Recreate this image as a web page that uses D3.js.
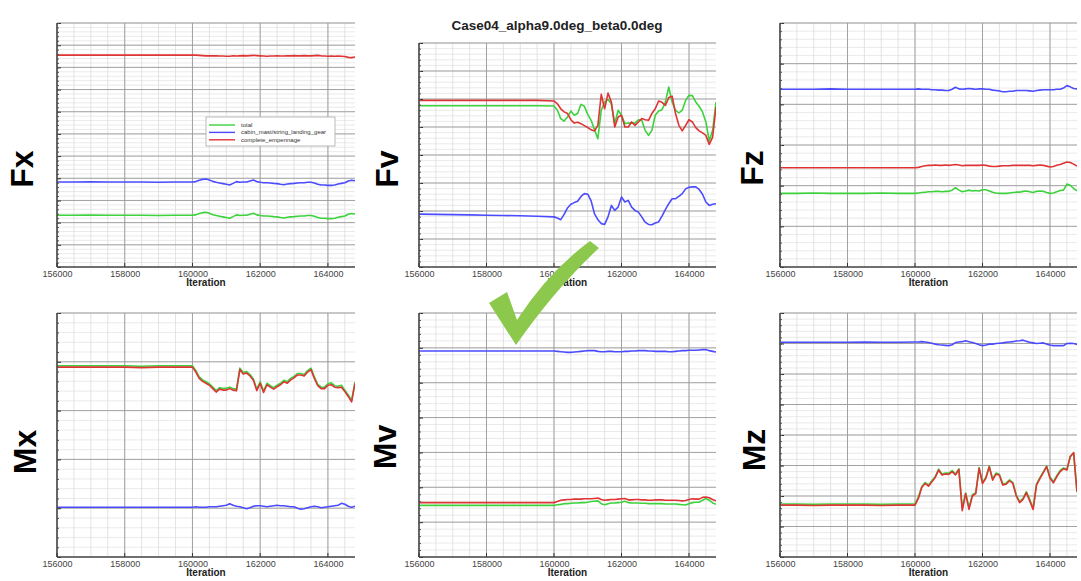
<!DOCTYPE html>
<html>
<head>
<meta charset="utf-8">
<script src="https://cdn.jsdelivr.net/npm/d3@7"></script>
<style>
  body { margin: 0; background: #fff; }
  text { font-family: "Liberation Sans", Arial, sans-serif; }
</style>
</head>
<body>
<svg id="chart" width="1081" height="581"></svg>
<script>
// iterations (x values shared by every curve)
var iterations = [156000,156500,157000,157500,158000,158500,159000,159500,160000,
  160100,160200,160300,160400,160500,160600,160700,160800,160900,161000,
  161100,161200,161300,161400,161500,161600,161700,161800,161900,162000,
  162100,162200,162300,162400,162500,162600,162700,162800,162900,163000,
  163100,163200,163300,163400,163500,163600,163700,163800,163900,164000,
  164100,164200,164300,164400,164500,164600,164700,164800];
var xTicks = [156000,158000,160000,162000,164000];
var seriesNames = ["total", "cabin_mast/string_landing_gear", "complete_empennage"];
var title = "Case04_alpha9.0deg_beta0.0deg";

// values in grid units (y axis has no labels in the picture)
var fxTotal = [2.33,2.33,2.34,2.33,2.33,2.33,2.32,2.33,2.33,
  2.35,2.41,2.45,2.47,2.42,2.36,2.32,2.29,2.26,2.23,2.20,2.27,2.35,2.32,2.33,2.33,2.38,2.42,2.35,2.32,
  2.30,2.30,2.29,2.27,2.26,2.23,2.21,2.24,2.26,2.27,2.29,2.30,2.30,2.32,2.32,2.29,2.23,2.20,2.20,2.18,
  2.18,2.20,2.24,2.27,2.30,2.38,2.41,2.39];
var fxCabin = [3.83,3.83,3.84,3.83,3.83,3.83,3.82,3.83,3.83,
  3.85,3.91,3.95,3.97,3.92,3.86,3.82,3.79,3.76,3.73,3.70,3.77,3.85,3.82,3.83,3.83,3.88,3.92,3.85,3.82,
  3.80,3.80,3.79,3.77,3.76,3.73,3.71,3.74,3.76,3.77,3.79,3.80,3.80,3.82,3.82,3.79,3.73,3.70,3.70,3.68,
  3.68,3.70,3.74,3.77,3.80,3.88,3.91,3.89];
var fxEmp = [9.55,9.55,9.55,9.56,9.55,9.55,9.55,9.55,9.55,
  9.55,9.54,9.53,9.52,9.52,9.52,9.52,9.51,9.51,9.50,9.50,9.52,9.51,9.52,9.53,9.52,9.53,9.54,9.53,9.52,
  9.51,9.50,9.51,9.51,9.52,9.51,9.51,9.52,9.52,9.53,9.52,9.52,9.53,9.52,9.52,9.53,9.54,9.52,9.51,9.50,
  9.51,9.50,9.51,9.50,9.49,9.45,9.44,9.47];

var fvTotal = [5.76,5.76,5.76,5.76,5.76,5.76,5.76,5.76,5.75,
  5.60,5.30,5.21,5.36,5.57,5.42,5.48,5.81,5.74,5.45,5.24,4.90,4.58,5.60,5.89,5.98,5.83,5.12,5.60,5.42,
  5.12,5.14,5.14,5.14,5.26,5.24,4.88,4.70,4.88,5.42,5.57,5.62,5.89,6.43,5.89,5.60,5.50,5.60,5.95,6.13,
  6.12,5.89,5.74,5.54,5.18,4.50,4.88,5.89];
var fvCabin = [1.89,1.88,1.87,1.86,1.85,1.84,1.83,1.81,1.79,
  1.75,1.69,1.88,2.11,2.24,2.30,2.35,2.52,2.62,2.60,2.36,1.90,1.69,1.55,1.52,1.79,2.20,2.02,2.14,2.50,
  2.32,2.38,2.14,2.02,1.96,1.79,1.60,1.52,1.51,1.57,1.61,1.82,2.05,2.26,2.44,2.44,2.52,2.62,2.79,2.85,
  2.86,2.86,2.77,2.60,2.32,2.20,2.24,2.26];
var fvEmp = [5.95,5.95,5.95,5.95,5.95,5.95,5.95,5.95,5.93,
  5.83,5.65,5.54,5.48,5.26,5.14,5.17,5.12,5.05,4.98,4.90,4.86,5.06,6.17,5.65,6.21,5.89,5.00,5.36,5.42,
  5.00,5.00,5.18,5.06,5.18,5.30,5.26,5.24,5.48,5.65,5.93,5.88,5.77,6.05,6.10,5.48,5.06,4.86,5.06,5.26,
  5.18,4.98,4.86,4.79,4.70,4.38,4.64,5.71];

var fzTotal = [1.81,1.81,1.82,1.81,1.81,1.81,1.82,1.81,1.81,
  1.82,1.83,1.84,1.85,1.85,1.86,1.86,1.85,1.86,1.86,1.89,1.95,1.89,1.85,1.87,1.89,1.87,1.88,1.87,1.90,
  1.90,1.87,1.84,1.82,1.81,1.81,1.81,1.82,1.83,1.84,1.84,1.86,1.87,1.85,1.83,1.86,1.87,1.86,1.83,1.81,
  1.82,1.85,1.88,1.89,2.04,2.01,1.93,1.87];
var fzCabin = [4.37,4.37,4.37,4.38,4.37,4.37,4.37,4.37,4.37,
  4.38,4.37,4.37,4.37,4.36,4.36,4.35,4.35,4.34,4.34,4.37,4.42,4.38,4.37,4.38,4.39,4.38,4.37,4.38,4.38,
  4.37,4.37,4.35,4.34,4.33,4.31,4.31,4.32,4.32,4.34,4.34,4.34,4.34,4.33,4.32,4.34,4.35,4.36,4.36,4.36,
  4.36,4.37,4.37,4.40,4.46,4.43,4.39,4.38];
var fzEmp = [2.44,2.44,2.44,2.44,2.44,2.44,2.44,2.44,2.44,
  2.45,2.47,2.49,2.50,2.50,2.51,2.50,2.50,2.51,2.50,2.51,2.52,2.51,2.49,2.50,2.50,2.50,2.50,2.50,2.51,
  2.50,2.48,2.47,2.47,2.48,2.49,2.49,2.49,2.50,2.50,2.50,2.50,2.50,2.50,2.49,2.50,2.51,2.50,2.48,2.46,
  2.47,2.50,2.52,2.55,2.58,2.57,2.53,2.48];

var mxTotal = [3.92,3.92,3.92,3.92,3.92,3.91,3.92,3.92,3.92,
  3.82,3.69,3.63,3.59,3.55,3.48,3.41,3.47,3.45,3.46,3.48,3.45,3.44,3.87,3.78,3.80,3.74,3.65,3.44,3.59,
  3.40,3.56,3.51,3.47,3.52,3.56,3.62,3.59,3.66,3.70,3.76,3.76,3.74,3.82,3.87,3.69,3.54,3.48,3.48,3.55,
  3.57,3.51,3.50,3.52,3.42,3.32,3.21,3.59];
var mxCabin = [1.02,1.02,1.02,1.02,1.02,1.02,1.02,1.02,1.02,
  1.03,1.02,1.02,1.02,1.03,1.03,1.03,1.04,1.05,1.06,1.09,1.06,1.04,1.03,1.01,0.99,1.01,1.04,1.05,1.05,
  1.04,1.03,1.04,1.05,1.06,1.05,1.05,1.04,1.03,1.03,1.00,0.98,0.99,1.01,1.03,1.04,1.03,1.01,1.02,1.03,
  1.04,1.05,1.06,1.10,1.08,1.04,1.02,1.04];
var mxEmp = [3.89,3.89,3.89,3.89,3.89,3.88,3.89,3.89,3.89,
  3.79,3.66,3.60,3.56,3.52,3.45,3.38,3.44,3.42,3.42,3.45,3.42,3.41,3.84,3.75,3.77,3.71,3.62,3.41,3.56,
  3.37,3.53,3.48,3.44,3.49,3.53,3.59,3.56,3.63,3.67,3.73,3.73,3.71,3.79,3.84,3.66,3.51,3.45,3.45,3.52,
  3.53,3.48,3.47,3.48,3.39,3.29,3.18,3.56];

var mvTotal = [1.48,1.48,1.48,1.48,1.48,1.48,1.48,1.48,1.48,
  1.50,1.51,1.53,1.53,1.54,1.55,1.55,1.56,1.56,1.57,1.59,1.60,1.61,1.53,1.50,1.53,1.55,1.55,1.56,1.57,
  1.60,1.56,1.55,1.55,1.55,1.54,1.54,1.53,1.53,1.53,1.53,1.53,1.52,1.52,1.52,1.52,1.51,1.50,1.49,1.53,
  1.56,1.57,1.57,1.63,1.68,1.63,1.55,1.51];
var mvCabin = [5.91,5.91,5.91,5.91,5.91,5.91,5.91,5.91,5.91,
  5.90,5.89,5.88,5.87,5.87,5.88,5.89,5.90,5.91,5.92,5.92,5.92,5.90,5.89,5.89,5.90,5.90,5.89,5.89,5.89,
  5.90,5.90,5.91,5.91,5.92,5.92,5.92,5.91,5.91,5.90,5.90,5.90,5.90,5.89,5.89,5.90,5.91,5.92,5.92,5.93,
  5.93,5.93,5.94,5.95,5.95,5.92,5.90,5.88];
var mvEmp = [1.56,1.56,1.56,1.56,1.56,1.56,1.56,1.56,1.56,
  1.59,1.63,1.64,1.65,1.65,1.66,1.66,1.66,1.67,1.67,1.67,1.68,1.69,1.65,1.63,1.64,1.65,1.65,1.66,1.67,
  1.68,1.64,1.64,1.65,1.65,1.64,1.64,1.63,1.63,1.64,1.64,1.64,1.63,1.63,1.63,1.63,1.62,1.61,1.62,1.65,
  1.67,1.66,1.66,1.71,1.72,1.70,1.65,1.61];

var mzTotal = [1.74,1.74,1.73,1.74,1.74,1.74,1.73,1.74,1.74,
  1.96,2.31,2.44,2.36,2.50,2.64,2.88,2.72,2.75,2.75,2.83,2.72,2.89,1.60,2.10,1.62,2.04,2.11,2.93,2.45,
  2.61,2.98,2.56,2.75,2.71,2.40,2.42,2.53,2.44,2.04,1.82,1.92,2.14,1.88,1.60,2.39,2.60,2.79,2.98,2.62,
  2.47,2.67,2.84,2.92,2.88,3.30,3.42,2.12];
var mzCabin = [7.04,7.04,7.04,7.04,7.04,7.05,7.04,7.04,7.05,
  7.05,7.06,7.05,7.03,7.01,6.98,6.96,6.95,6.94,6.93,6.96,7.03,7.05,7.06,7.09,7.06,7.03,7.00,6.96,6.93,
  6.95,6.98,6.98,7.00,7.01,7.02,7.04,7.05,7.06,7.08,7.09,7.11,7.07,7.04,7.02,7.00,7.01,7.02,6.98,6.95,
  6.93,6.93,6.93,6.93,7.00,7.01,7.00,6.97];
var mzEmp = [1.70,1.70,1.69,1.70,1.70,1.70,1.69,1.70,1.70,
  1.92,2.28,2.41,2.32,2.47,2.61,2.85,2.69,2.72,2.71,2.80,2.69,2.87,1.52,2.08,1.56,2.00,2.08,2.91,2.41,
  2.58,2.96,2.52,2.72,2.68,2.36,2.39,2.50,2.41,2.00,1.78,1.89,2.11,1.84,1.56,2.36,2.57,2.76,2.96,2.58,
  2.43,2.63,2.80,2.89,2.85,3.29,3.42,2.14];

var colors = ["#3cd23c", "#4b4bff", "#de3434"];

// layout of the 6 panels
var panels = [
  {name: "Fx", x: 57,  y: 23,  w: 298, h: 244, yMax: 11, lx: 33,  ly: 169, data: [fxTotal, fxCabin, fxEmp], legend: true},
  {name: "Fv", x: 419, y: 43,  w: 297, h: 224, yMax: 8,  lx: 398, ly: 169, data: [fvTotal, fvCabin, fvEmp]},
  {name: "Fz", x: 780, y: 23,  w: 297, h: 244, yMax: 6,  lx: 763, ly: 168, data: [fzTotal, fzCabin, fzEmp]},
  {name: "Mx", x: 57,  y: 313, w: 298, h: 244, yMax: 5,  lx: 36,  ly: 452, data: [mxTotal, mxCabin, mxEmp]},
  {name: "Mv", x: 419, y: 313, w: 297, h: 244, yMax: 7,  lx: 396, ly: 447, data: [mvTotal, mvCabin, mvEmp]},
  {name: "Mz", x: 780, y: 313, w: 297, h: 244, yMax: 8,  lx: 765, ly: 450, data: [mzTotal, mzCabin, mzEmp]}
];

var svg = d3.select("#chart");

panels.forEach(function(p, pi) {
  var x = d3.scaleLinear().domain([156000, 164800]).range([0, p.w]);
  var y = d3.scaleLinear().domain([0, p.yMax]).range([p.h, 0]);
  var g = svg.append("g").attr("transform", "translate(" + p.x + "," + p.y + ")");

  g.append("clipPath").attr("id", "clip" + pi)
    .append("rect").attr("width", p.w).attr("height", p.h);

  // minor grid
  var minorY = d3.range(0, p.yMax * 5 + 1).map(function(i) { return i / 5; });
  var minorX = d3.range(156000, 164801, 500);
  g.append("g").attr("class", "minor-y")
    .selectAll("line").data(minorY).enter().append("line")
    .attr("x1", 0).attr("x2", p.w)
    .attr("y1", function(d) { return y(d); }).attr("y2", function(d) { return y(d); })
    .attr("stroke", "#e4e4e4").attr("stroke-width", 0.8);
  g.append("g").attr("class", "minor-x")
    .selectAll("line").data(minorX).enter().append("line")
    .attr("x1", function(d) { return x(d); }).attr("x2", function(d) { return x(d); })
    .attr("y1", 0).attr("y2", p.h)
    .attr("stroke", "#dcdcdc").attr("stroke-width", 0.8);

  // major grid
  g.append("g").attr("class", "major-y")
    .selectAll("line").data(d3.range(1, p.yMax)).enter().append("line")
    .attr("x1", 0).attr("x2", p.w)
    .attr("y1", function(d) { return y(d); }).attr("y2", function(d) { return y(d); })
    .attr("stroke", "#9a9a9a").attr("stroke-width", 0.9);
  g.append("g").attr("class", "major-x")
    .selectAll("line").data(xTicks.slice(1)).enter().append("line")
    .attr("x1", function(d) { return x(d); }).attr("x2", function(d) { return x(d); })
    .attr("y1", 0).attr("y2", p.h)
    .attr("stroke", "#9a9a9a").attr("stroke-width", 0.9);
  g.append("line").attr("x1", 0).attr("x2", p.w).attr("y1", 0).attr("y2", 0)
    .attr("stroke", "#999").attr("stroke-width", 1);

  // curves
  var line = d3.line()
    .x(function(d, i) { return x(iterations[i]); })
    .y(function(d) { return y(d); });
  var curves = g.append("g").attr("clip-path", "url(#clip" + pi + ")");
  p.data.forEach(function(vals, si) {
    curves.append("path").datum(vals)
      .attr("d", line)
      .attr("fill", "none")
      .attr("stroke", colors[si])
      .attr("stroke-width", 1.6)
      .attr("stroke-linejoin", "round");
  });

  // axes
  var yAxis = d3.axisRight(y).ticks(p.yMax).tickSize(4).tickFormat("");
  g.append("g").call(yAxis)
    .call(function(s) { s.select(".domain").remove(); })
    .selectAll("line").attr("stroke", "#333");
  var yMinor = d3.axisRight(y).tickValues(minorY).tickSize(2).tickFormat("");
  g.append("g").call(yMinor)
    .call(function(s) { s.select(".domain").remove(); })
    .selectAll("line").attr("stroke", "#555");
  g.append("line").attr("x1", 0).attr("x2", 0).attr("y1", 0).attr("y2", p.h)
    .attr("stroke", "#444").attr("stroke-width", 1.6);

  var xAxis = d3.axisBottom(x).tickValues(xTicks).tickSize(0).tickPadding(10)
    .tickFormat(d3.format("d"));
  var xa = g.append("g").attr("transform", "translate(0," + p.h + ")").call(xAxis);
  xa.select(".domain").remove();
  xa.selectAll("text").attr("font-size", 9).attr("fill", "#444")
    .attr("font-family", "Liberation Sans, Arial, sans-serif").attr("dy", "0");
  g.append("g").selectAll("line").data(xTicks).enter().append("line")
    .attr("x1", function(d) { return x(d); }).attr("x2", function(d) { return x(d); })
    .attr("y1", p.h).attr("y2", p.h - 4).attr("stroke", "#333");
  g.append("line").attr("x1", 0).attr("x2", p.w).attr("y1", p.h).attr("y2", p.h)
    .attr("stroke", "#444").attr("stroke-width", 1.6);

  g.append("text").attr("x", p.w / 2).attr("y", p.h + 19)
    .attr("text-anchor", "middle").attr("font-size", 10).attr("font-weight", "bold")
    .attr("fill", "#222").text("Iteration");

  // big panel label
  svg.append("text")
    .attr("transform", "translate(" + p.lx + "," + p.ly + ") rotate(-90)")
    .attr("text-anchor", "middle").attr("font-size", 32).attr("font-weight", "bold")
    .attr("fill", "#000").text(p.name);

  if (p.legend) {
    var lg = g.append("g").attr("transform", "translate(149,94)");
    lg.append("rect").attr("width", 129).attr("height", 29)
      .attr("fill", "#fff").attr("stroke", "#aaa").attr("stroke-width", 0.8);
    seriesNames.forEach(function(n, i) {
      var ly = 8 + i * 7.4;
      lg.append("line").attr("x1", 3).attr("x2", 29).attr("y1", ly).attr("y2", ly)
        .attr("stroke", colors[i]).attr("stroke-width", 1.4);
      lg.append("text").attr("x", 35).attr("y", ly + 2).attr("font-size", 6)
        .attr("fill", "#333").text(n);
    });
  }
});

svg.append("text").attr("x", 557).attr("y", 30).attr("text-anchor", "middle")
  .attr("font-size", 13.5).attr("font-weight", "bold").attr("fill", "#222").text(title);

// green check mark annotation
svg.append("path")
  .attr("d", "M489,303 L507,292 L517,320 Q548,272 590,241 L599,248 Q556,288 516,345 Z")
  .attr("fill", "#8cc84b");
</script>
</body>
</html>
